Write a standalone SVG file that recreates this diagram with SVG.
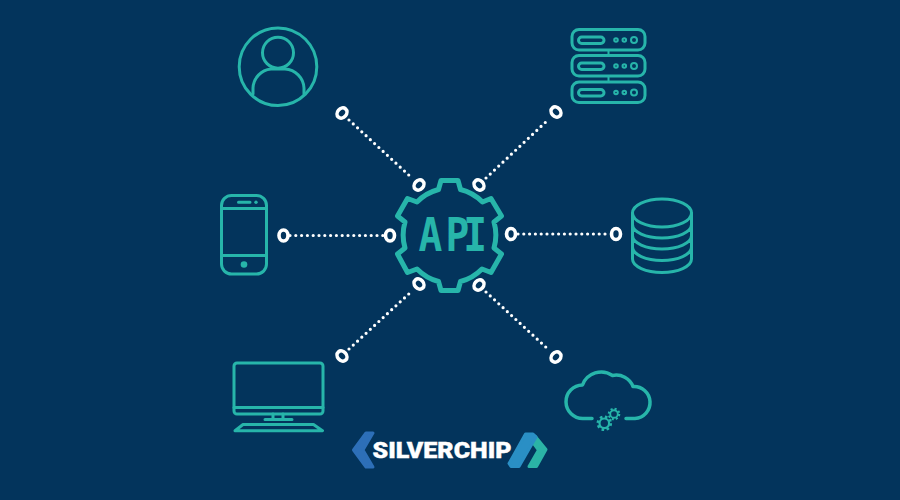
<svg xmlns="http://www.w3.org/2000/svg" width="900" height="500" viewBox="0 0 900 500">
<style>
.i{fill:none;stroke:#27b5aa;stroke-width:3;stroke-linecap:round;stroke-linejoin:round}
.f{fill:#27b5aa}
.d{fill:none;stroke:#fff;stroke-width:3.200;stroke-linecap:round;stroke-dasharray:0 5.800}
.r{fill:none;stroke:#fff;stroke-width:3.600}
</style>
<defs>
<g id="srv"><rect class="i" x="572" y="29.500" width="73" height="20.500" rx="7"/><rect class="i" x="578.500" y="37" width="25.500" height="6.500" rx="3.200"/><circle class="i" style="stroke-width:2" cx="616" cy="40" r="1.800"/><circle class="i" style="stroke-width:2" cx="624.300" cy="40" r="1.800"/><circle class="i" style="stroke-width:2" cx="634" cy="40" r="3"/></g>
</defs>
<rect width="900" height="500" fill="#03345c"/>
<g id="connectors">
<path class="d" d="M349 120L412 178M486 178L549 119M290 235.500H383M518 234H609M349 349L412 291M486 292L549 350"/>
<ellipse class="r" cx="342" cy="113" rx="4.500" ry="5.500" transform="rotate(40 342 113)"/>
<ellipse class="r" cx="419" cy="185" rx="4.500" ry="5.500" transform="rotate(40 419 185)"/>
<ellipse class="r" cx="479" cy="185" rx="4.500" ry="5.500" transform="rotate(-40 479 185)"/>
<ellipse class="r" cx="556" cy="112" rx="4.500" ry="5.500" transform="rotate(-40 556 112)"/>
<ellipse class="r" cx="283.500" cy="235.500" rx="4.500" ry="5.500"/>
<ellipse class="r" cx="390" cy="235.500" rx="4.500" ry="5.500"/>
<ellipse class="r" cx="511" cy="234" rx="4.500" ry="5.500"/>
<ellipse class="r" cx="616" cy="234" rx="4.500" ry="5.500"/>
<ellipse class="r" cx="342" cy="356" rx="4.500" ry="5.500" transform="rotate(-40 342 356)"/>
<ellipse class="r" cx="419" cy="284" rx="4.500" ry="5.500" transform="rotate(-40 419 284)"/>
<ellipse class="r" cx="479" cy="285" rx="4.500" ry="5.500" transform="rotate(40 479 285)"/>
<ellipse class="r" cx="556" cy="357" rx="4.500" ry="5.500" transform="rotate(40 556 357)"/>
</g>
<g id="api">
<path class="i" style="stroke-width:5" d="M441 180.500H458L460.500 189.500A47 47 0 0 1 482.500 202L491 198.500L501.500 216L494 222A47 47 0 0 1 494 248L501.500 254L491 272.500L482 269A47 47 0 0 1 460.500 281.500L458 290.500H441L438.500 281.500A47 47 0 0 1 417 269L407.500 272.500L397.500 254L405 248A47 47 0 0 1 405 222L397.500 216L407.500 198.500L417 202A47 47 0 0 1 438.500 189.500Z"/>
<text transform="translate(0 251) scale(.86 1)" x="500.600 532 552.500" y="0" text-anchor="middle" font-family="'DejaVu Sans Mono',monospace" font-weight="700" font-size="46" fill="#27b5aa">API</text>
</g>
<g id="user">
<circle class="i" cx="278" cy="66.700" r="38.800"/>
<circle class="i" cx="278" cy="52.700" r="15.500"/>
<path class="i" d="M253 94V88A20 20 0 0 1 271 69H285A20 20 0 0 1 304 88V94"/>
</g>
<g id="servers">
<use href="#srv"/><use href="#srv" y="26"/><use href="#srv" y="52.500"/>
<path class="i" style="stroke-width:2" d="M608.500 50V55M608.500 76V81.500"/>
</g>
<g id="phone">
<rect class="i" x="221.500" y="195.500" width="45" height="78.500" rx="10"/>
<path class="i" d="M221.500 208.500H266.500M221.500 255.500H266.500M238.500 202.300H250"/>
<circle class="f" cx="256" cy="202.300" r="1.700"/>
<circle class="f" cx="244" cy="264.500" r="3.300"/>
</g>
<g id="database">
<ellipse class="i" cx="662" cy="213" rx="29.500" ry="14"/>
<path class="i" d="M632.500 213V259C632.500 266.500 646 272.500 662 272.500S691.500 266.500 691.500 259V213M632.500 224.500C632.500 232 646 238 662 238S691.500 232 691.500 224.500M632.500 235.500C632.500 243 646 249 662 249S691.500 243 691.500 235.500M632.500 247C632.500 254.500 646 260.500 662 260.500S691.500 254.500 691.500 247"/>
</g>
<g id="desktop">
<rect class="i" x="234" y="363" width="89" height="51" rx="3"/>
<path class="i" d="M234 407.500H323M273 414V419M283 414V419M265 419.500H292"/>
<path class="i" d="M243 424.500H313.500L322.500 430.700H235Z"/>
</g>
<g id="cloud">
<path class="i" style="stroke-width:3.500" d="M592 418.500H583A16.500 16.500 0 0 1 582.500 385A20 20 0 0 1 612.500 375.500A18 18 0 0 1 633 386.500A16 16 0 0 1 635 418.500H626"/>
<circle class="i" style="stroke-width:2.200" cx="604.300" cy="423.300" r="4.800"/>
<circle fill="none" stroke="#27b5aa" stroke-width="2.800" stroke-dasharray="2.500 2.500" cx="604.300" cy="423.300" r="6.400"/>
<circle class="i" style="stroke-width:1.900" cx="614" cy="414" r="3.800"/>
<circle fill="none" stroke="#27b5aa" stroke-width="2.400" stroke-dasharray="2 2" cx="614" cy="414" r="5.100"/>
</g>
<g id="logo">
<path d="M366 433H373L363 450L373 467H366L353.500 450Z" fill="#2d6fb8" stroke="#2d6fb8" stroke-width="3" stroke-linejoin="round"/>
<path d="M535 436L546 449.500L536.500 466.500H529L538.500 450L531 440Z" fill="#2bb3a6" stroke="#2bb3a6" stroke-width="3" stroke-linejoin="round"/>
<path d="M525.500 434H533L536 437L519 466.500H511L509 463.500Z" fill="#2a8fc5" stroke="#2a8fc5" stroke-width="3" stroke-linejoin="round"/>
<text x="442" y="457.500" text-anchor="middle" font-family="'Roboto','Liberation Sans',sans-serif" font-weight="900" font-size="22.500" textLength="139" lengthAdjust="spacingAndGlyphs" fill="#fff" stroke="#fff" stroke-width=".4">SILVERCHIP</text>
</g>
</svg>
